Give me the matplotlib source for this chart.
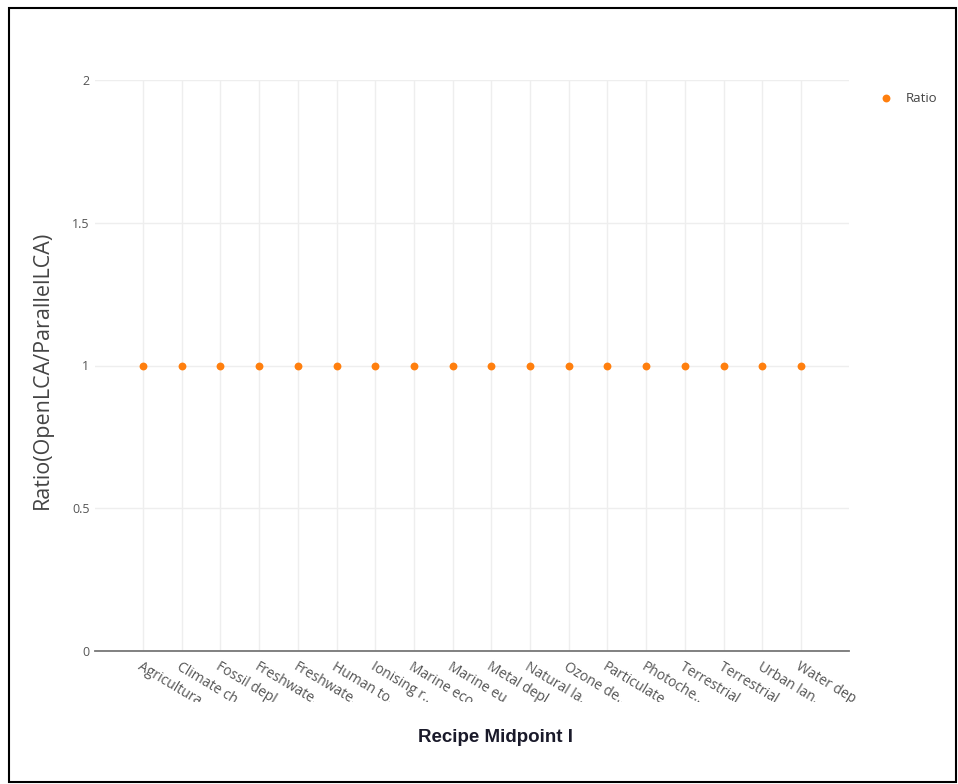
import matplotlib
matplotlib.use("Agg")
import matplotlib.pyplot as plt
from matplotlib.patches import Rectangle
from matplotlib.transforms import Bbox

categories = [
    "Agricultural land occupation", "Climate change", "Fossil depletion",
    "Freshwater ecotoxicity", "Freshwater eutrophication", "Human toxicity",
    "Ionising radiation", "Marine ecotoxicity", "Marine eutrophication",
    "Metal depletion", "Natural land transformation", "Ozone depletion",
    "Particulate matter formation", "Photochemical oxidant formation",
    "Terrestrial acidification", "Terrestrial ecotoxicity",
    "Urban land occupation", "Water depletion",
]
tick_labels = [
    "Agricultura...", "Climate ch...", "Fossil depl...", "Freshwate...",
    "Freshwate...", "Human to...", "Ionising r...", "Marine eco...",
    "Marine eu...", "Metal depl...", "Natural la...", "Ozone de...",
    "Particulate...", "Photoche...", "Terrestrial ...", "Terrestrial ...",
    "Urban lan...", "Water dep...",
]
ratio = [1, 1, 1, 1, 1, 1, 1, 1, 1, 1, 1, 1, 1, 1, 1, 1, 1, 1]
y_ticks = [0, 0.5, 1, 1.5, 2]
y_tick_labels = ["0", "0.5", "1", "1.5", "2"]

W, H = 958, 784
fig = plt.figure(figsize=(W / 100, H / 100), dpi=100)
fig.patch.set_facecolor("white")

left, right, bottom, top = 95, 849, 651, 80
ax = fig.add_axes([left / W, 1 - bottom / H, (right - left) / W, (bottom - top) / H])

x = list(range(len(categories)))
ax.scatter(x, ratio, s=32, color="#ff7f0e", zorder=3, linewidths=0, label="Ratio")

ax.set_xlim(-1.24, 18.24)
ax.set_ylim(0, 2)

for s in ["top", "right", "left"]:
    ax.spines[s].set_visible(False)
ax.spines["bottom"].set_color("#777777")
ax.spines["bottom"].set_linewidth(1.3)

ax.set_yticks(y_ticks)
ax.set_yticklabels(y_tick_labels, fontsize=9, color="#555555", family="Open Sans")
ax.tick_params(axis="y", length=0, pad=4)

ax.set_xticks(x)
ax.set_xticklabels(tick_labels, fontsize=10, color="#555555", family="Open Sans",
                   rotation=-31, ha="left", va="top", rotation_mode="anchor")
ax.tick_params(axis="x", length=0, pad=6)

ax.grid(True, color="#eeeeee", linewidth=1)
ax.set_axisbelow(True)

# plotly-style clipping of the long category labels
clip = Bbox.from_extents(0, H - 702, W, H - 652)
for lab in ax.get_xticklabels():
    lab.set_clip_box(clip)
    lab.set_clip_on(True)

fig.text(42 / W, 1 - 370 / H, "Ratio(OpenLCA/ParallelLCA)", rotation=90,
         ha="center", va="center", fontsize=15.5, color="#444444", family="Open Sans")
fig.text(495 / W, 1 - 737 / H, "Recipe Midpoint I", ha="center", va="center",
         fontsize=13.5, fontweight="bold", color="#1a1a2a", family="Liberation Sans")

leg = fig.legend(loc="upper left", bbox_to_anchor=(866 / W, 1 - 80 / H),
                 frameon=False, handletextpad=0.9, handlelength=1.2,
                 prop={"family": "Open Sans", "size": 9.5})
for t in leg.get_texts():
    t.set_color("#444444")

fig.patches.append(Rectangle((9 / W, 2 / H), 947 / W, 774 / H, transform=fig.transFigure,
                             fill=False, edgecolor="black", linewidth=1.5))

fig.savefig("out.png", dpi=100)
